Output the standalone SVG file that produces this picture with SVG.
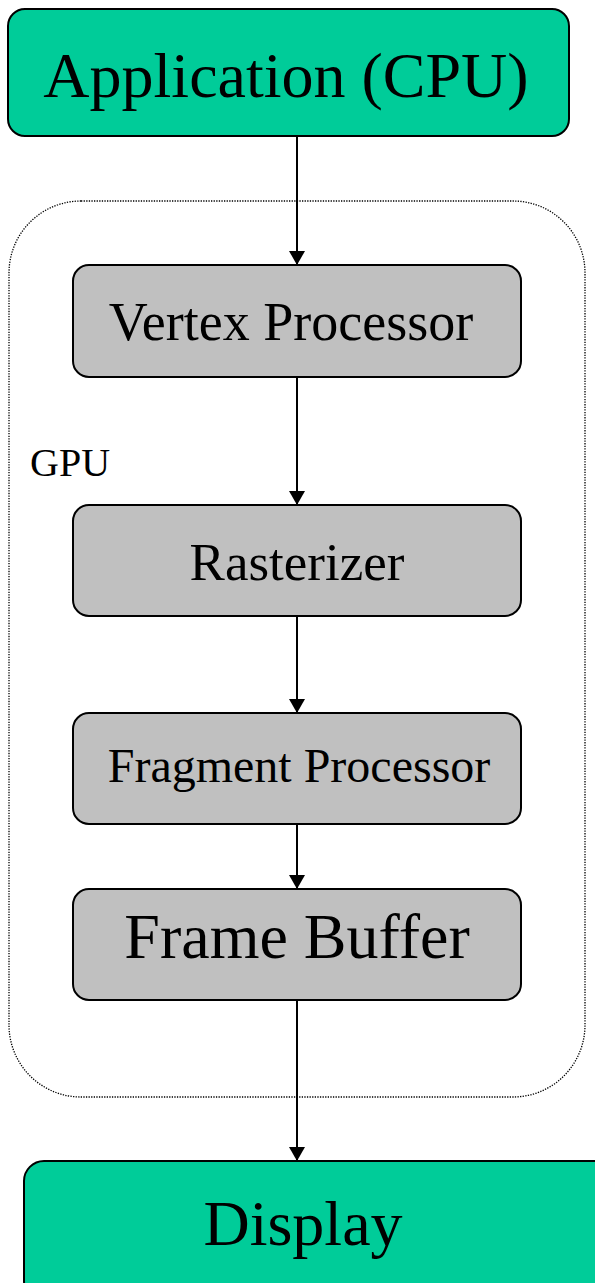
<svg xmlns="http://www.w3.org/2000/svg" width="595" height="1283" viewBox="0 0 595 1283">
  <style>
    .host { fill: #00CC99; stroke: #000; stroke-width: 2; }
    .stage { fill: #C0C0C0; stroke: #000; stroke-width: 2; }
    .lbl { font-family: "Liberation Serif", "Times New Roman", serif; fill: #000; text-anchor: middle; }
    .edge { stroke: #000; stroke-width: 2; fill: none; marker-end: url(#arrow); }
  </style>
  <defs>
    <marker id="arrow" viewBox="0 0 14 16" refX="14" refY="8" markerWidth="14" markerHeight="16" markerUnits="userSpaceOnUse" orient="auto">
      <path d="M0,0 L14,8 L0,16 Z" fill="#000"/>
    </marker>
  </defs>
  <rect width="595" height="1283" fill="#fff"/>

  <!-- GPU boundary -->
  <g id="gpu">
    <rect x="9" y="201" width="576" height="896" rx="72" ry="72" fill="none" stroke="#000" stroke-width="1.3" stroke-dasharray="1.3,1.3"/>
    <text class="lbl" x="30" y="476" font-size="40" style="text-anchor:start">GPU</text>
  </g>

  <g id="connectors">
    <line class="edge" x1="297" y1="137" x2="297" y2="265"/>
    <line class="edge" x1="297" y1="377" x2="297" y2="505"/>
    <line class="edge" x1="297" y1="616" x2="297" y2="713"/>
    <line class="edge" x1="297" y1="824" x2="297" y2="889"/>
    <line class="edge" x1="297" y1="1000" x2="297" y2="1161"/>
  </g>

  <g id="application">
    <rect class="host" x="8" y="9" width="561" height="127" rx="17"/>
    <text class="lbl" x="286" y="97" font-size="64">Application (CPU)</text>
  </g>

  <g id="vertex-processor">
    <rect class="stage" x="73" y="265" width="448" height="112" rx="16"/>
    <text class="lbl" x="291" y="340" font-size="54">Vertex Processor</text>
  </g>

  <g id="rasterizer">
    <rect class="stage" x="73" y="505" width="448" height="111" rx="16"/>
    <text class="lbl" x="297" y="580" font-size="53">Rasterizer</text>
  </g>

  <g id="fragment-processor">
    <rect class="stage" x="73" y="713" width="448" height="111" rx="16"/>
    <text class="lbl" x="299" y="782" font-size="48">Fragment Processor</text>
  </g>

  <g id="frame-buffer">
    <rect class="stage" x="73" y="889" width="448" height="111" rx="16"/>
    <text class="lbl" x="297" y="958" font-size="64">Frame Buffer</text>
  </g>

  <g id="display">
    <rect class="host" x="24" y="1161" width="590" height="140" rx="20"/>
    <text class="lbl" x="303" y="1245" font-size="64">Display</text>
  </g>
</svg>
